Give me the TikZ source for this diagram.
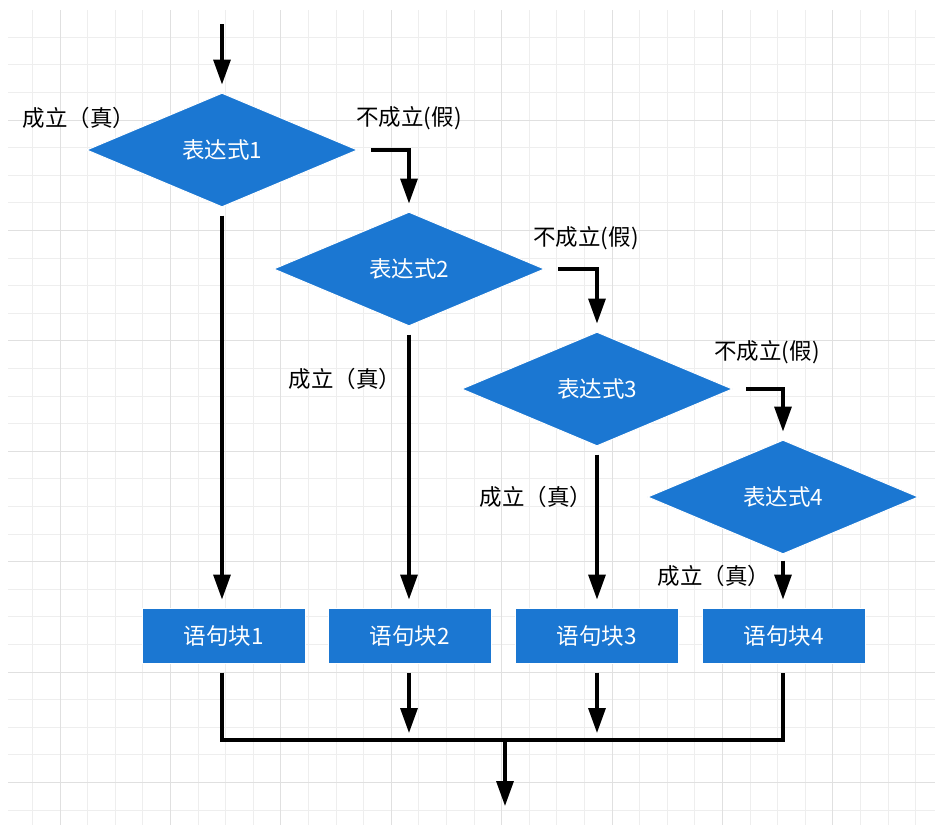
\documentclass[tikz,border=0pt]{standalone}
\usepackage{fontspec}
\setmainfont{Noto Sans CJK SC}
\usetikzlibrary{arrows.meta,shapes.geometric,calc}
\definecolor{fcblue}{HTML}{1B77D2}
\definecolor{gridminor}{HTML}{EEEEEE}
\definecolor{gridmajor}{HTML}{E0E0E0}
\begin{document}
\begin{tikzpicture}[x=1pt,y=-1pt,
  decision/.style={diamond, fill=fcblue, draw=white, line width=1pt, minimum width=271pt, minimum height=114pt, inner sep=0pt, text=white, font=\fontsize{22.5}{26}\selectfont},
  block/.style={rectangle, fill=fcblue, draw=white, line width=1pt, minimum width=163pt, minimum height=55pt, inner sep=0pt, text=white, font=\fontsize{22.5}{26}\selectfont},
  lbl/.style={font=\fontsize{22.5}{26}\selectfont, text=black, inner sep=0pt},
  flow/.style={line width=3.3pt, -{Triangle[length=25pt,width=17pt]}},
  plain/.style={line width=3.3pt},
]
\useasboundingbox (0,0) rectangle (935,825);
\fill[white] (0,0) rectangle (935,825);
\begin{scope}
  \clip (8,10) rectangle (935,825);
  \foreach \i in {0,...,34} { \draw[gridminor, line width=1pt] ({4.8+27.6*\i},0) -- ++(0,825); }
  \foreach \j in {0,...,30} { \draw[gridminor, line width=1pt] (0,{9.6+27.6*\j}) -- ++(935,0); }
  \foreach \i in {0,...,8} { \draw[gridmajor, line width=1pt] ({60+110.4*\i},0) -- ++(0,825); }
  \foreach \j in {0,...,7} { \draw[gridmajor, line width=1pt] (0,{9.6+110.4*\j}) -- ++(935,0); }
\end{scope}

% decisions
\node[decision] (d1) at (222,150) {表达式1};
\node[decision] (d2) at (409,269) {表达式2};
\node[decision] (d3) at (597,389) {表达式3};
\node[decision] (d4) at (783,497) {表达式4};

% blocks
\node[block] (b1) at (223.5,635.5) {语句块1};
\node[block] (b2) at (409.5,635.5) {语句块2};
\node[block] (b3) at (596.5,635.5) {语句块3};
\node[block] (b4) at (783.5,635.5) {语句块4};

% labels
\node[lbl] (t1) at (79,118) {成立（真）};
\node[lbl] (f1) at (409,118) {不成立(假)};
\node[lbl] (t2) at (345,379) {成立（真）};
\node[lbl] (f2) at (586,238) {不成立(假)};
\node[lbl] (t3) at (536,497) {成立（真）};
\node[lbl] (f3) at (767,352) {不成立(假)};
\node[lbl] (t4) at (714,576) {成立（真）};

% coordinates
\coordinate (start) at (222,24);
\coordinate (j) at (505,740);
\coordinate (end) at (505,806);

% connectors
\draw[flow, shorten >=8pt] (start) -- (d1.north);
\draw[flow, shorten <=13pt, shorten >=8pt] (d1.east) -| (d2.north);
\draw[flow, shorten <=13pt, shorten >=8pt] (d2.east) -| (d3.north);
\draw[flow, shorten <=13pt, shorten >=8pt] (d3.east) -| (d4.north);

\draw[flow, shorten <=8pt, shorten >=8pt] (d1.south) -- (d1.south |- b1.north);
\draw[flow, shorten <=8pt, shorten >=8pt] (d2.south) -- (d2.south |- b2.north);
\draw[flow, shorten <=8pt, shorten >=8pt] (d3.south) -- (d3.south |- b3.north);
\draw[flow, shorten <=6pt, shorten >=8pt] (d4.south) -- (d4.south |- b4.north);

\draw[plain] ([yshift=-9pt]b1.south -| d1.south) |- (j) -| ([yshift=-9pt]b4.south -| d4.south);
\draw[flow, shorten <=9pt, shorten >=7pt] (b2.south -| d2.south) -- (d2.south |- j);
\draw[flow, shorten <=9pt, shorten >=7pt] (b3.south -| d3.south) -- (d3.south |- j);
\draw[flow] (j) -- (end);
\end{tikzpicture}
\end{document}
